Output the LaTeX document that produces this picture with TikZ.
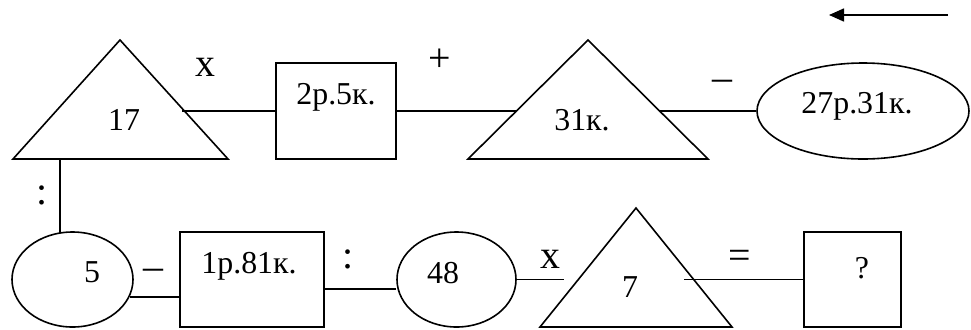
\documentclass[tikz,border=0pt]{standalone}
\usepackage{fontspec}
\setmainfont{Liberation Serif}
\usetikzlibrary{shapes.geometric,arrows.meta}
\begin{document}
\begin{tikzpicture}[x=1bp,y=-1bp,line width=1.6bp,
  num/.style={anchor=base,font=\fontsize{32}{38}\selectfont,inner sep=0},
  op/.style={anchor=base,font=\fontsize{40}{48}\selectfont,inner sep=0},
  rectbox/.style={draw,rectangle,inner sep=0},
  oval/.style={draw,ellipse,inner sep=0}]
\useasboundingbox (0,0) rectangle (971,329);
% shapes
\draw (13,159) coordinate (t1l) -- (120,40) coordinate (t1a) -- (228,159) coordinate (t1r) -- cycle;
\draw (468,159) coordinate (t2l) -- (588,40) coordinate (t2a) -- (708,159) coordinate (t2r) -- cycle;
\draw (540,327) coordinate (t3l) -- (636,208) coordinate (t3a) -- (732,327) coordinate (t3r) -- cycle;
\node[rectbox,minimum width=120bp,minimum height=96bp] (b1) at (336,111) {};
\node[oval,minimum width=212bp,minimum height=96bp] (e1) at (863,111) {};
\node[oval,minimum width=121bp,minimum height=95bp] (e5) at (72.5,279.5) {};
\node[rectbox,minimum width=144bp,minimum height=95bp] (b2) at (252,279.5) {};
\node[oval,minimum width=119bp,minimum height=95bp] (e48) at (456.5,279.5) {};
\node[rectbox,minimum width=97bp,minimum height=95bp] (b3) at (852.5,279.5) {};
% connector end points
\coordinate (c1) at (182,111);
\coordinate (c2) at (516,111);
\coordinate (c3) at (660,111);
\coordinate (c4) at (60,159);
\coordinate (c5) at (60,233);
\coordinate (c6) at (130,297);
\coordinate (c7) at (324,289);
\coordinate (c9) at (564,279.5);
\coordinate (c10) at (684,279.5);
\coordinate (a1) at (948,15);
\coordinate (a2) at (829,15);
% connectors
\draw (c1) -- (b1.west);
\draw (b1.east) -- (c2);
\draw (c3) -- (e1.west);
\draw (c4) -- (c5);
\draw (c6) -- (b2.west |- c6);
\draw (b2.east |- c7) -- (e48.west |- c7);
\draw (e48.east) -- (c9);
\draw (c10) -- (b3.west);
\draw[-{Triangle[length=15bp,width=13bp]}] (a1) -- (a2);
% texts
\node[num] (n17) at (124,130) {17};
\node[op] (ox1) at (205,76) {x};
\node[num] (n2r5k) at (336,104) {2р.5к.};
\node[op] (oplus) at (440,71) {+};
\node[num] (n31k) at (582,130) {31к.};
\node[op] (ominus1) at (722,90) {–};
\node[num] (n27r31k) at (857,113) {27р.31к.};
\node[op] (ocolon1) at (42,204) {:};
\node[num] (n5) at (92,282) {5};
\node[op] (ominus2) at (153,279) {–};
\node[num] (n1r81k) at (249,273) {1р.81к.};
\node[op] (ocolon2) at (348,268) {:};
\node[num] (n48) at (443,283) {48};
\node[op] (ox2) at (550,268) {x};
\node[num] (n7) at (630,297) {7};
\node[op] (oeq) at (740,268) {=};
\node[num] (nq) at (862,278) {?};
\end{tikzpicture}
\end{document}
